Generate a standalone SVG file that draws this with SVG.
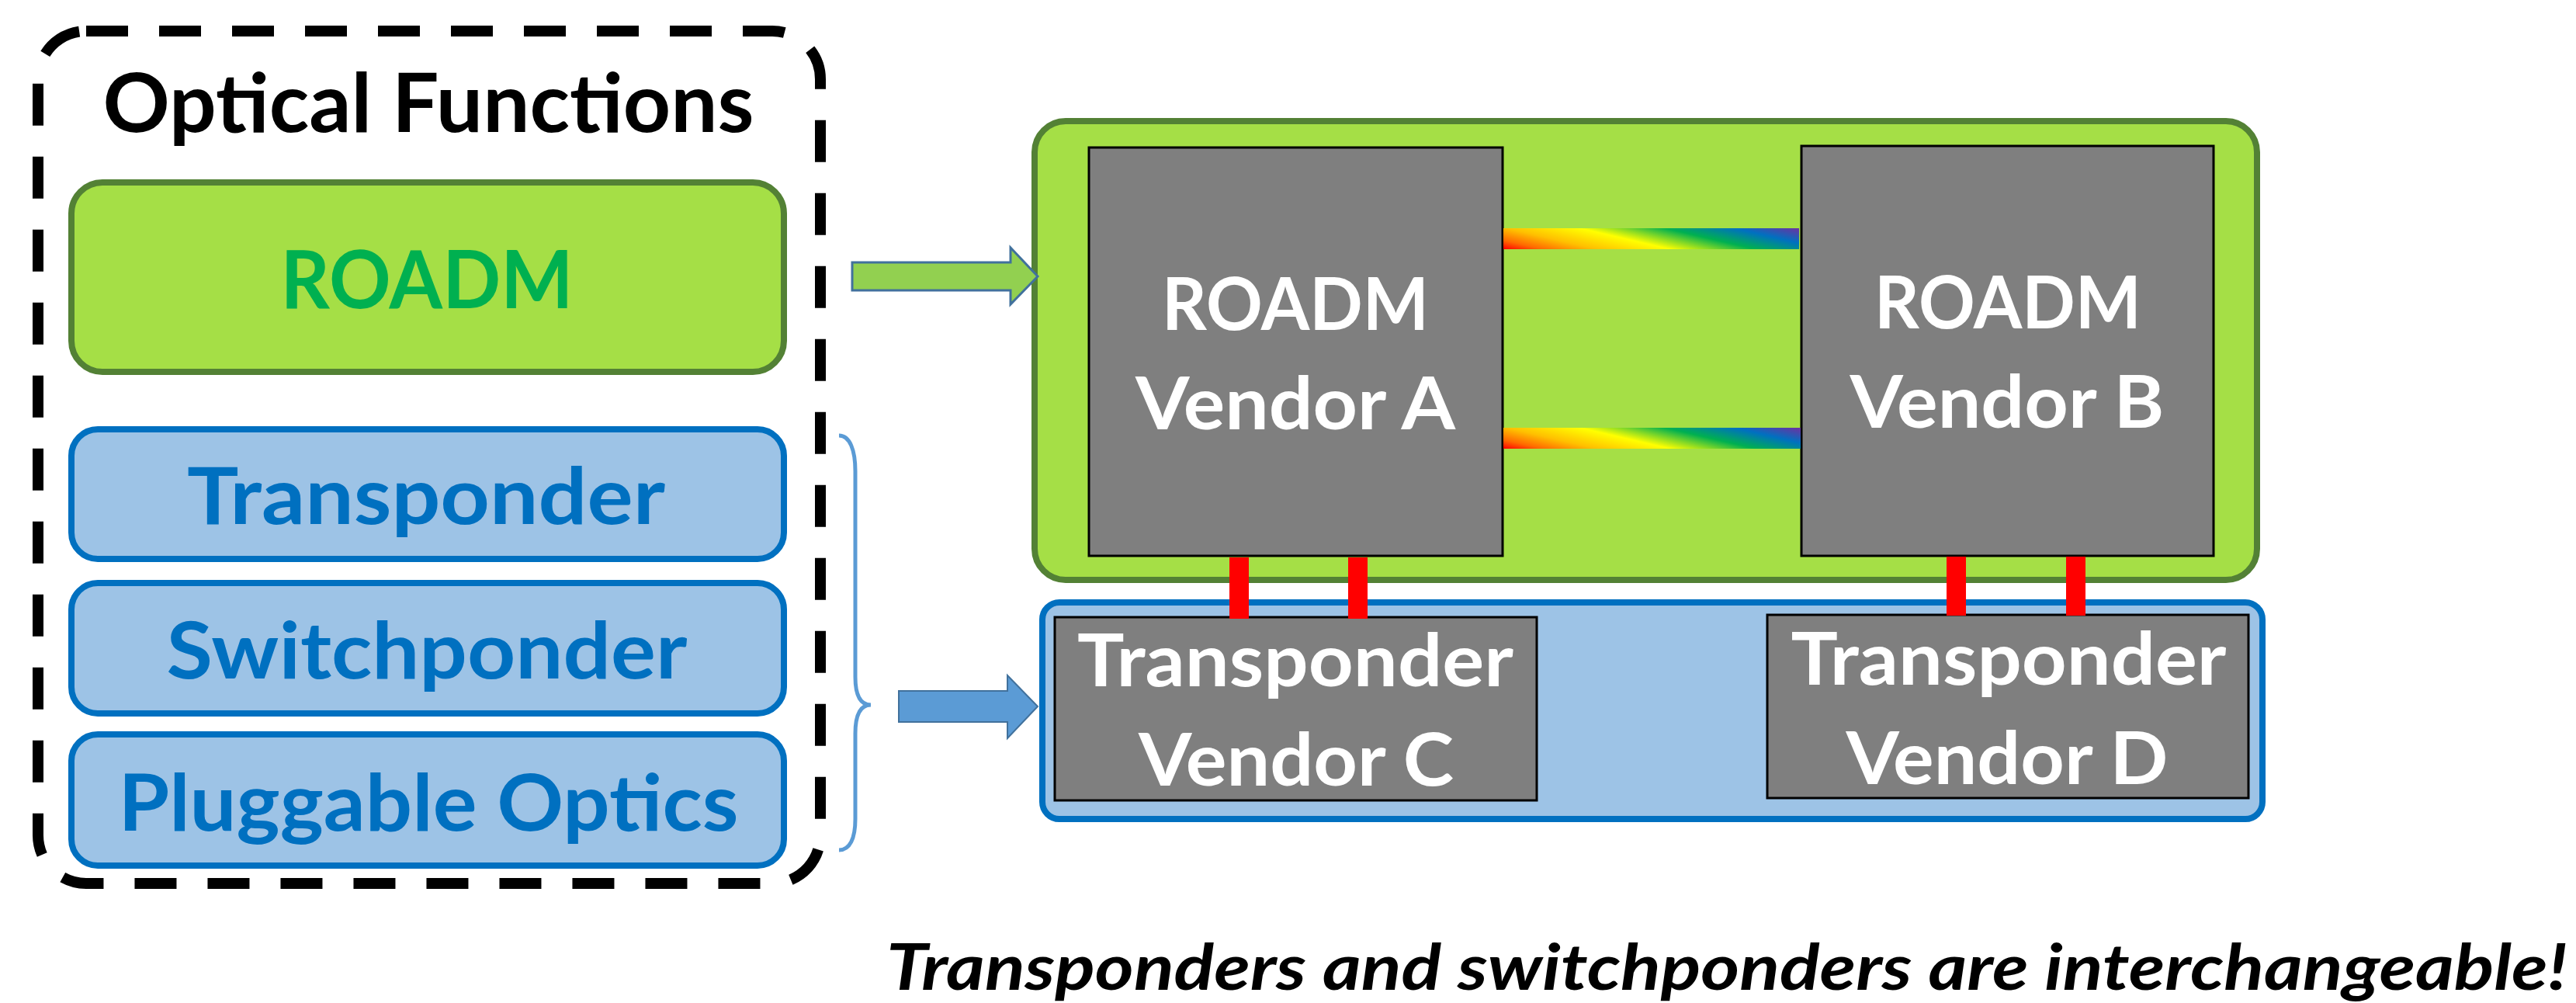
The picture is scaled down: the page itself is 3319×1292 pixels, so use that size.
<svg xmlns="http://www.w3.org/2000/svg" width="3319" height="1292" viewBox="0 0 3319 1292">
<style>
text{font-family:Lato,"Open Sans","Liberation Sans",sans-serif;font-weight:700;text-anchor:middle}
.fn-green{fill:#A5DF46;stroke:#538135;stroke-width:8}
.fn-blue{fill:#9DC3E6;stroke:#0070C0;stroke-width:8}
.dev{fill:#7F7F7F;stroke:#000;stroke-width:3}
.devtxt{fill:#fff;font-size:93px}
.bluetxt{fill:#0070C0;font-size:102px}
.red{fill:#FF0000}
</style>
<defs>
<linearGradient id="rainbow1" gradientUnits="userSpaceOnUse" x1="1937" y1="321" x2="1962.7" y2="210.7">
<stop offset="0" stop-color="#FF0000"/>
<stop offset="0.1" stop-color="#FF6A00"/>
<stop offset="0.24" stop-color="#FFC000"/>
<stop offset="0.43" stop-color="#FFFF00"/>
<stop offset="0.65" stop-color="#00B050"/>
<stop offset="0.83" stop-color="#0070C0"/>
<stop offset="1" stop-color="#7030A0"/>
</linearGradient>
<linearGradient id="rainbow2" href="#rainbow1" gradientUnits="userSpaceOnUse" x1="1937" y1="578" x2="1962.7" y2="467.7"/>
</defs>
<rect width="3319" height="1292" fill="#fff"/>

<g id="optical-functions">
<rect x="49" y="40" width="1008" height="1098" rx="62" fill="none" stroke="#000" stroke-width="14" stroke-dasharray="54 40"/>
<text x="552" y="170" font-size="105" fill="#000" textLength="839" lengthAdjust="spacingAndGlyphs">Optical Functions</text>
</g>
<g id="fn-roadm">
<rect class="fn-green" x="92" y="235" width="918" height="244" rx="40"/>
<text x="550" y="397" font-size="103" fill="#00B050" textLength="377" lengthAdjust="spacingAndGlyphs">ROADM</text>
</g>
<g id="fn-transponder">
<rect class="fn-blue" x="92" y="553" width="918" height="167" rx="34"/>
<text class="bluetxt" x="549" y="675" textLength="616" lengthAdjust="spacingAndGlyphs">Transponder</text>
</g>
<g id="fn-switchponder">
<rect class="fn-blue" x="92" y="751" width="918" height="168" rx="34"/>
<text class="bluetxt" x="550" y="874" textLength="671" lengthAdjust="spacingAndGlyphs">Switchponder</text>
</g>
<g id="fn-pluggable">
<rect class="fn-blue" x="92" y="946" width="918" height="169" rx="34"/>
<text class="bluetxt" x="552" y="1070" textLength="799" lengthAdjust="spacingAndGlyphs">Pluggable Optics</text>
</g>

<g id="roadm-domain">
<rect class="fn-green" x="1333" y="156" width="1575" height="591" rx="40"/>
</g>
<g id="transponder-domain">
<rect class="fn-blue" x="1343" y="776" width="1572" height="279" rx="22"/>
</g>

<g id="roadm-a">
<rect class="dev" x="1403" y="190" width="533" height="526"/>
<text class="devtxt" x="1669" y="425" textLength="344" lengthAdjust="spacingAndGlyphs">ROADM</text>
<text class="devtxt" x="1669" y="553" textLength="412" lengthAdjust="spacingAndGlyphs">Vendor A</text>
</g>
<g id="roadm-b">
<rect class="dev" x="2321" y="188" width="531" height="528"/>
<text class="devtxt" x="2587" y="423" textLength="344" lengthAdjust="spacingAndGlyphs">ROADM</text>
<text class="devtxt" x="2586" y="551" textLength="405" lengthAdjust="spacingAndGlyphs">Vendor B</text>
</g>
<g id="transponder-c">
<rect class="dev" x="1359" y="795" width="621" height="236"/>
<text class="devtxt" x="1669" y="884" textLength="562" lengthAdjust="spacingAndGlyphs">Transponder</text>
<text class="devtxt" x="1670" y="1012" textLength="406" lengthAdjust="spacingAndGlyphs">Vendor C</text>
</g>
<g id="transponder-d">
<rect class="dev" x="2277" y="792" width="620" height="236"/>
<text class="devtxt" x="2588" y="882" textLength="561" lengthAdjust="spacingAndGlyphs">Transponder</text>
<text class="devtxt" x="2586" y="1010" textLength="415" lengthAdjust="spacingAndGlyphs">Vendor D</text>
</g>

<g id="connectors">
<polygon points="1098,338 1302,338 1302,319 1337,356 1302,392 1302,374 1098,374" fill="#92D050" stroke="#41719C" stroke-width="3"/>
<polygon points="1158,890 1298,890 1298,870 1337,910 1298,951 1298,930 1158,930" fill="#5B9BD5" stroke="#41719C" stroke-width="2"/>
<path d="M1081,561 C1095,561 1102,580 1102,607 L1102,872 C1102,895 1108,908 1122,908 C1108,908 1102,921 1102,945 L1102,1055 C1102,1080 1095,1095 1081,1095" fill="none" stroke="#5B9BD5" stroke-width="5"/>
<rect x="1937" y="294" width="381" height="27" fill="url(#rainbow1)"/>
<rect x="1937" y="551" width="383" height="27" fill="url(#rainbow2)"/>
<rect class="red" x="1584" y="718" width="25" height="79"/>
<rect class="red" x="1737" y="718" width="25" height="79"/>
<rect class="red" x="2508" y="717" width="25" height="76"/>
<rect class="red" x="2662" y="717" width="25" height="76"/>
</g>

<text x="2225" y="1275" font-size="82" font-style="italic" fill="#000" textLength="2166" lengthAdjust="spacingAndGlyphs">Transponders and switchponders are interchangeable!</text>
</svg>
